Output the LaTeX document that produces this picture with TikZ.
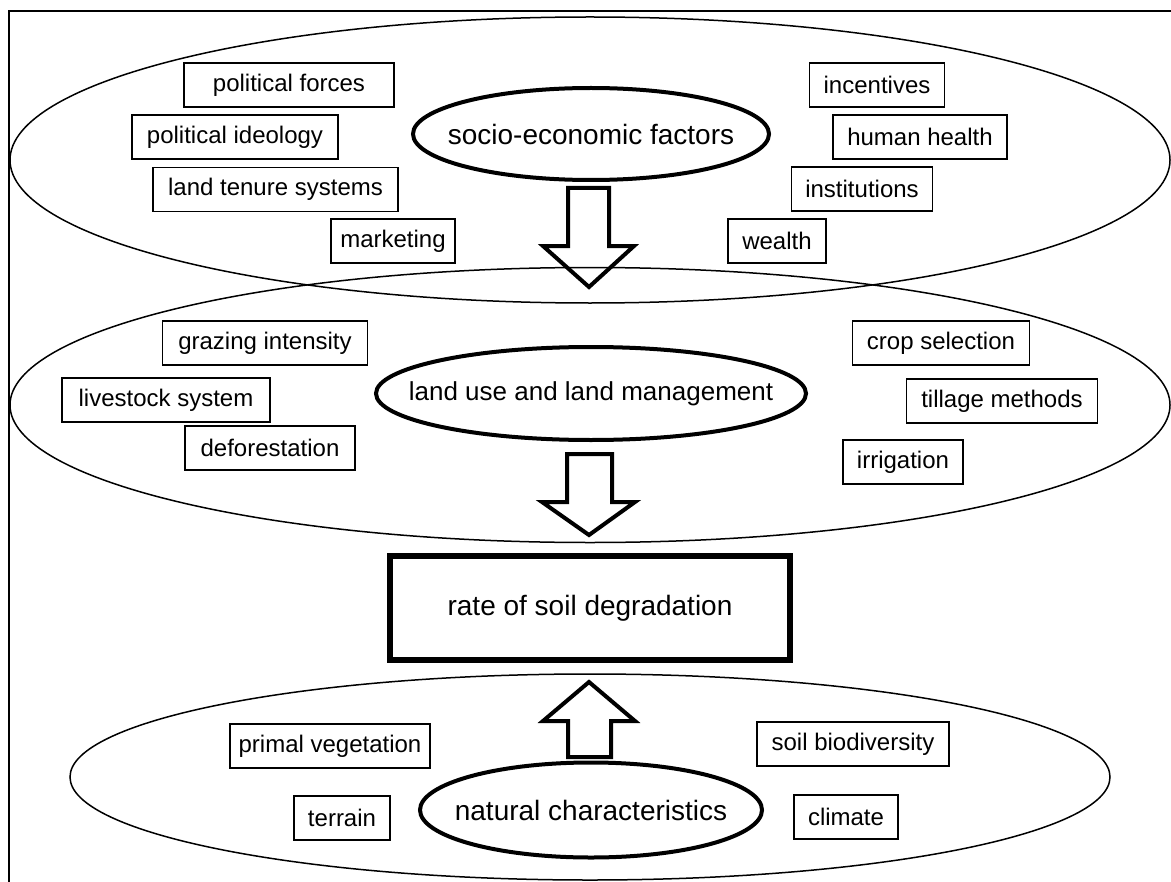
\documentclass[tikz,border=0pt]{standalone}
\usepackage{fontspec}
\setmainfont{Liberation Sans}
\usetikzlibrary{shapes.geometric}

\tikzset{
  group/.style={draw, ellipse, line width=0.75pt},
  factor/.style={draw, ellipse, line width=2pt, inner sep=0pt, font=\fontsize{14}{16}\selectfont},
  item/.style={draw, line width=0.75pt, minimum height=22pt, inner sep=0pt, font=\fontsize{12}{14}\selectfont},
  bigarrow/.style={draw, line width=2pt, line join=miter}
}

\begin{document}
\begin{tikzpicture}[x=0.5pt, y=-0.5pt]
\useasboundingbox (0, 0) rectangle (1171, 882);
\draw[line width=1pt] (9, 882) -- (9, 11) -- (1171, 11);

% three groups
\node[group, minimum width=580pt, minimum height=143pt] (socgroup) at (590, 160) {};
\node[group, minimum width=580pt, minimum height=137.5pt] (usegroup) at (590, 405) {};
\node[group, minimum width=520pt, minimum height=103pt] (natgroup) at (590, 777) {};

\node[factor, minimum width=178pt, minimum height=46pt] (socio) at (591, 134) {\makebox[0pt]{socio-economic factors}};
\node[factor, minimum width=215pt, minimum height=46.5pt, font=\fontsize{13}{15}\selectfont] (landuse) at (591, 393.5) {\makebox[0pt]{land use and land management}};
\node[factor, minimum width=171pt, minimum height=47.5pt] (natural) at (591, 810) {\makebox[0pt]{natural characteristics}};

\node[draw, line width=3pt, minimum width=200pt, minimum height=52pt, font=\fontsize{14}{16}\selectfont] (rate) at (590, 608) {rate of soil degradation};

% socio-economic
\node[item, minimum width=105pt] (forces) at (289, 85) {political forces};
\node[item, minimum width=103pt] (ideology) at (235, 137) {political ideology};
\node[item, minimum width=122.5pt] (tenure) at (275.5, 189.5) {land tenure systems};
\node[item, minimum width=62pt] (marketing) at (393, 241) {marketing};
\node[item, minimum width=67.5pt] (incentives) at (877, 85) {incentives};
\node[item, minimum width=87pt] (health) at (920, 137) {human health};
\node[item, minimum width=70.5pt] (institutions) at (862, 189) {institutions};
\node[item, minimum width=49pt] (wealth) at (777, 241) {wealth};

% land use
\node[item, minimum width=102.5pt] (grazing) at (265, 343) {grazing intensity};
\node[item, minimum width=104pt] (livestock) at (166, 400) {livestock system};
\node[item, minimum width=85pt] (deforest) at (270, 448) {deforestation};
\node[item, minimum width=88.5pt] (crop) at (941, 343) {crop selection};
\node[item, minimum width=95.5pt] (tillage) at (1002, 401) {tillage methods};
\node[item, minimum width=60pt] (irrigation) at (903, 462) {irrigation};

% natural
\node[item, minimum width=100pt] (vegetation) at (330, 746) {primal vegetation};
\node[item, minimum width=48pt] (terrain) at (342, 818) {terrain};
\node[item, minimum width=96pt] (biodiv) at (853, 744) {soil biodiversity};
\node[item, minimum width=52pt] (climate) at (846, 817) {climate};

% arrows
\draw[bigarrow] (568, 188) -- (609, 188) -- (609, 246) -- (634, 246) -- (589, 287) -- (543, 246) -- (568, 246) -- cycle;
\draw[bigarrow] (567, 454) -- (612, 454) -- (612, 502) -- (635, 502) -- (589, 535) -- (542, 502) -- (567, 502) -- cycle;
\draw[bigarrow] (568, 757) -- (611, 757) -- (611, 721) -- (635, 721) -- (589, 682) -- (543, 721) -- (568, 721) -- cycle;
\end{tikzpicture}
\end{document}
